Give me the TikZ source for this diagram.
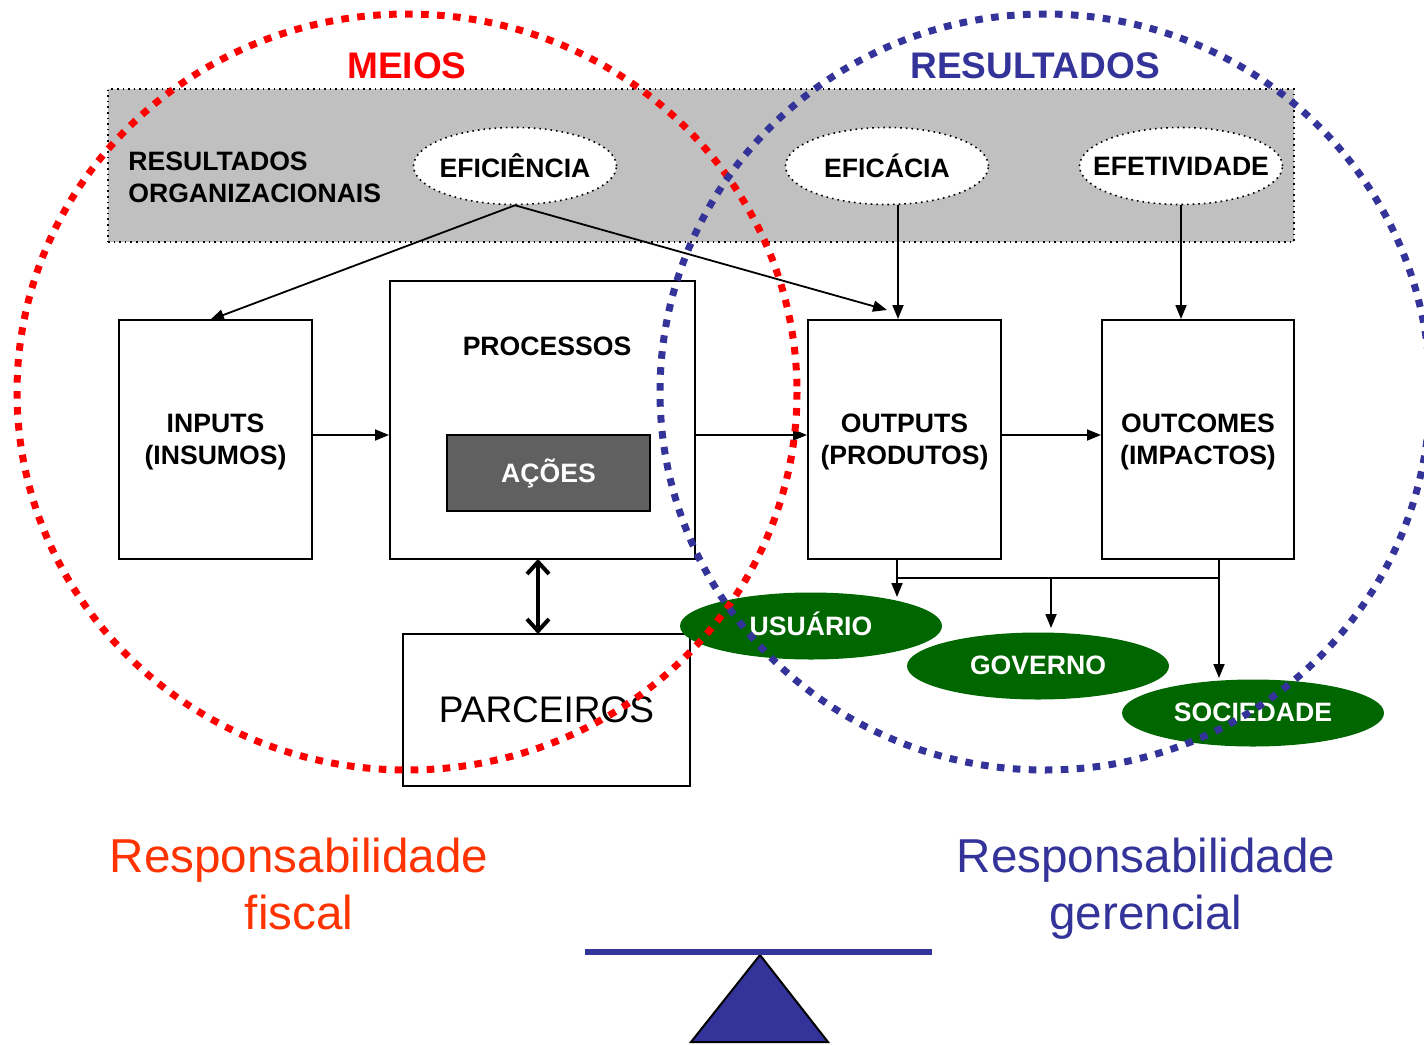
\documentclass[tikz,border=0pt]{standalone}
\usepackage{fontspec}
\setmainfont{Liberation Sans}
\usetikzlibrary{arrows.meta,shapes.geometric}
\definecolor{mred}{HTML}{FF0000}
\definecolor{mblue}{HTML}{333399}
\definecolor{morange}{HTML}{FF3300}
\definecolor{mgreen}{HTML}{006600}
\definecolor{mgray}{HTML}{C0C0C0}
\definecolor{mdark}{HTML}{606060}
\tikzset{
  lbl/.style={font=\fontsize{13.3}{16}\selectfont\bfseries, align=center, inner sep=0pt},
  box/.style={draw=black, line width=1pt, fill=white, inner sep=0pt},
  oval/.style={ellipse, draw=black, dotted, line width=0.8pt, fill=white, inner sep=0pt,
     minimum width=101.5pt, minimum height=38.5pt},
  gov/.style={ellipse, fill=mgreen, inner sep=0pt,
     minimum width=131pt, minimum height=33.5pt},
  govtxt/.style={text=white, inner sep=0pt, font=\fontsize{13.3}{16}\selectfont\bfseries},
  arr/.style={line width=0.9pt, -{Triangle[length=7pt,width=5.5pt]}},
  ring/.style={line width=3.5pt, dash pattern=on 3.8pt off 4.2pt},
  bigtxt/.style={font=\fontsize{23.8}{28.5}\selectfont, align=center, inner sep=0pt, anchor=north},
}
\begin{document}
\begin{tikzpicture}[x=0.5pt,y=-0.5pt]
\useasboundingbox (0,0) rectangle (1424,1044);
% gray band
\node[draw=black, dotted, line width=0.8pt, fill=mgray, minimum width=593pt, minimum height=76.5pt, inner sep=0pt] (band) at (701,165.5) {};
\node[lbl, align=left, anchor=west] (resorg) at (128,177) {RESULTADOS\\ORGANIZACIONAIS};
\node[oval] (efic) at (515,166) {};
\node[lbl] at (efic) {EFICIÊNCIA};
\node[oval] (efica) at (887,166) {};
\node[lbl] at (efica) {EFICÁCIA};
\node[oval] (efet) at (1181,166) {};
\node[lbl] at (efet) {EFETIVIDADE};
% titles
\node[font=\fontsize{18.5}{22}\selectfont\bfseries, text=mred, inner sep=0pt] (meios) at (407,66) {MEIOS};
\node[font=\fontsize{18.5}{22}\selectfont\bfseries, text=mblue, inner sep=0pt] (resu) at (1035,66) {RESULTADOS};
% boxes
\node[box, minimum width=96.5pt, minimum height=119.5pt] (inp) at (215.5,439.5) {};
\node[lbl] at (215.5,442) {INPUTS\\(INSUMOS)};
\node[box, minimum width=152.5pt, minimum height=139pt] (proc) at (542.5,420) {};
\node[lbl] (proct) at (547,346) {PROCESSOS};
\node[draw=black, line width=1pt, fill=mdark, minimum width=101.5pt, minimum height=38pt, inner sep=0pt, text=white, font=\fontsize{13.3}{16}\selectfont\bfseries] (acoes) at (548.5,473) {AÇÕES};
\node[box, minimum width=96.5pt, minimum height=119.5pt] (outp) at (904.5,439.5) {};
\node[lbl] at (904.5,442) {OUTPUTS\\(PRODUTOS)};
\node[box, minimum width=96pt, minimum height=119.5pt] (outc) at (1198,439.5) {};
\node[lbl] at (1198,442) {OUTCOMES\\(IMPACTOS)};
\node[box, minimum width=143.5pt, minimum height=76pt, font=\fontsize{18.5}{22}\selectfont] (parc) at (546.5,710) {PARCEIROS};
% green ovals
\node[gov] (usu) at (811,626) {};
\node[govtxt] at (811,624) {USUÁRIO};
\node[gov] (gove) at (1038,666) {};
\node[govtxt] at (1038,665) {GOVERNO};
\node[gov] (soc) at (1253,713) {};
\node[govtxt] at (1253,712) {SOCIEDADE};
% coordinates
\coordinate (cA) at (898,0);
\coordinate (cB) at (1181,0);
\coordinate (hy) at (0,435);
\coordinate (effend) at (887,310);
\coordinate (inend) at (210,320);
\coordinate (o1) at (897,559);
\coordinate (o2) at (897,597);
\coordinate (j1) at (897,578);
\coordinate (j2) at (1219,578);
\coordinate (s1) at (1219,559);
\coordinate (s2) at (1219,678);
\coordinate (g1) at (1051,578);
\coordinate (g2) at (1051,628);
\coordinate (d1) at (538,559);
\coordinate (d2) at (538,634);
% arrows
\draw[arr] (efic.south) -- (inend);
\draw[arr] (efic.south) -- (effend);
\draw[arr] (efica.south -| cA) -- (outp.north -| cA);
\draw[arr] (efet.south -| cB) -- (outc.north -| cB);
\draw[arr] (inp.east |- hy) -- (proc.west |- hy);
\draw[arr] (proc.east |- hy) -- (outp.west |- hy);
\draw[arr] (outp.east |- hy) -- (outc.west |- hy);
\draw[arr] (o1) -- (o2);
\draw[line width=0.9pt] (j1) -- (j2);
\draw[arr] (s1) -- (s2);
\draw[arr] (g1) -- (g2);
\draw[line width=2pt, {Straight Barb[length=6pt,width=11pt,line width=2pt]}-{Straight Barb[length=6pt,width=11pt,line width=2pt]}] (d1) -- (d2);
% rings
\draw[ring, mred] (407,392) ellipse [x radius=390, y radius=378];
\draw[ring, mblue] (1045,392) ellipse [x radius=385, y radius=378];
% bottom labels
\node[bigtxt, text=morange] (rf) at (299,838) {Responsabilidade\\fiscal};
\node[bigtxt, text=mblue] (rg) at (1146,838) {Responsabilidade\\gerencial};
% balance
\coordinate (t1) at (691,1042);
\coordinate (t2) at (760,955);
\coordinate (t3) at (828,1042);
\draw[fill=mblue, draw=black, line width=1pt] (t1) -- (t2) -- (t3) -- cycle;
\coordinate (b1) at (585,952);
\coordinate (b2) at (932,952);
\draw[line width=3pt, mblue] (b1) -- (b2);
\end{tikzpicture}
\end{document}
